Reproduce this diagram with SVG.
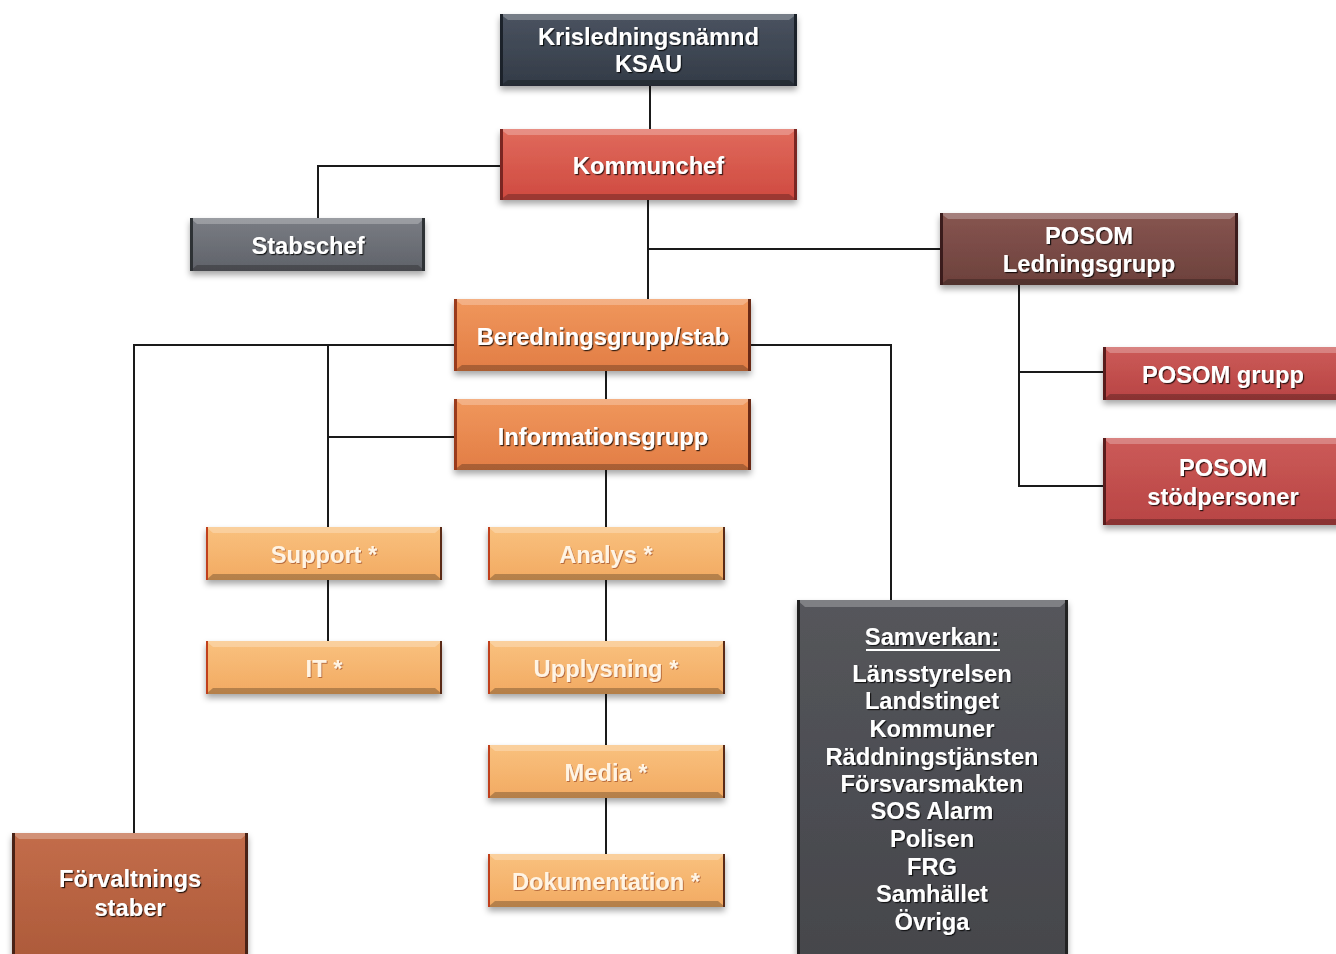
<svg xmlns="http://www.w3.org/2000/svg" width="1336" height="954" viewBox="0 0 1336 954">
<defs>
<style>
.t{font-family:"Liberation Sans",Arial,sans-serif;font-weight:bold;font-size:23.7px;fill:#ffffff;text-anchor:middle;filter:url(#ts)}
.tl{font-family:"Liberation Sans",Arial,sans-serif;font-weight:bold;font-size:23.7px;fill:#fff4e4;text-anchor:middle;filter:url(#tsl)}
.c{fill:none;stroke:#1a1a1a;stroke-width:2}
.box{filter:url(#bs)}
.hl{fill:#ffffff;opacity:0.25}
.dk{fill:#000000;opacity:0.25}
</style>
<filter id="ts" x="-10%" y="-30%" width="120%" height="160%"><feDropShadow dx="1.2" dy="1.2" stdDeviation="0.6" flood-color="#000" flood-opacity="0.75"/></filter>
<filter id="tsl" x="-10%" y="-30%" width="120%" height="160%"><feDropShadow dx="1" dy="1" stdDeviation="0.6" flood-color="#a0502a" flood-opacity="0.7"/></filter>
<filter id="bs" x="-5%" y="-10%" width="110%" height="130%"><feDropShadow dx="0" dy="4" stdDeviation="3" flood-color="#000" flood-opacity="0.35"/></filter>
<linearGradient id="gNavy" x1="0" y1="0" x2="0" y2="1"><stop offset="0" stop-color="#4a5360"/><stop offset="1" stop-color="#333b47"/></linearGradient>
<linearGradient id="gRed" x1="0" y1="0" x2="0" y2="1"><stop offset="0" stop-color="#e06a5c"/><stop offset="1" stop-color="#cf4a40"/></linearGradient>
<linearGradient id="gGrey" x1="0" y1="0" x2="0" y2="1"><stop offset="0" stop-color="#7a7d84"/><stop offset="1" stop-color="#5f6269"/></linearGradient>
<linearGradient id="gBrown" x1="0" y1="0" x2="0" y2="1"><stop offset="0" stop-color="#875550"/><stop offset="1" stop-color="#6c413c"/></linearGradient>
<linearGradient id="gOrange" x1="0" y1="0" x2="0" y2="1"><stop offset="0" stop-color="#f0975c"/><stop offset="1" stop-color="#e27d45"/></linearGradient>
<linearGradient id="gPosom" x1="0" y1="0" x2="0" y2="1"><stop offset="0" stop-color="#cc5b58"/><stop offset="1" stop-color="#b84444"/></linearGradient>
<linearGradient id="gLight" x1="0" y1="0" x2="0" y2="1"><stop offset="0" stop-color="#f9c17e"/><stop offset="1" stop-color="#f2aa62"/></linearGradient>
<linearGradient id="gDark" x1="0" y1="0" x2="0" y2="1"><stop offset="0" stop-color="#55565b"/><stop offset="1" stop-color="#45464b"/></linearGradient>
<linearGradient id="gFor" x1="0" y1="0" x2="0" y2="1"><stop offset="0" stop-color="#c36d4a"/><stop offset="1" stop-color="#ad5a3a"/></linearGradient>
</defs>
<rect width="1336" height="954" fill="#ffffff"/>

<g id="connectors">
<path class="c" d="M650 86 V129"/>
<path class="c" d="M500 166 H318 V218"/>
<path class="c" d="M648 200 V299"/>
<path class="c" d="M648 249 H940"/>
<path class="c" d="M1019 285 V486 H1103"/>
<path class="c" d="M1019 372 H1103"/>
<path class="c" d="M454 345 H134 V833"/>
<path class="c" d="M328 345 V527"/>
<path class="c" d="M454 437 H328"/>
<path class="c" d="M751 345 H891 V600"/>
<path class="c" d="M606 371 V399"/>
<path class="c" d="M606 470 V527"/>
<path class="c" d="M328 580 V641"/>
<path class="c" d="M606 580 V641"/>
<path class="c" d="M606 694 V745"/>
<path class="c" d="M606 798 V854"/>
</g>

<g id="krisledningsnamnd" class="box">
<rect x="500" y="14" width="297" height="72" fill="url(#gNavy)"/>
<polygon class="hl" points="500,14 797,14 789,20 508,20"/>
<polygon class="dk" points="500,86 797,86 789,80 508,80"/>
<rect x="500" y="14" width="3" height="72" fill="#1e232a"/><rect x="794" y="14" width="3" height="72" fill="#1e232a"/>
<text class="t" x="648.5" y="45">Krisledningsnämnd</text>
<text class="t" x="648.5" y="72">KSAU</text>
</g>

<g id="kommunchef" class="box">
<rect x="500" y="129" width="297" height="71" fill="url(#gRed)"/>
<polygon class="hl" points="500,129 797,129 789,135 508,135"/>
<polygon class="dk" points="500,200 797,200 789,194 508,194"/>
<rect x="500" y="129" width="3" height="71" fill="#7a2520"/><rect x="794" y="129" width="3" height="71" fill="#7a2520"/>
<text class="t" x="648.5" y="174">Kommunchef</text>
</g>

<g id="stabschef" class="box">
<rect x="190" y="218" width="235" height="53" fill="url(#gGrey)"/>
<polygon class="hl" points="190,218 425,218 418,224 197,224"/>
<polygon class="dk" points="190,271 425,271 418,265 197,265"/>
<rect x="190" y="218" width="3" height="53" fill="#2e3036"/><rect x="422" y="218" width="3" height="53" fill="#2e3036"/>
<text class="t" x="308" y="254">Stabschef</text>
</g>

<g id="posom-ledningsgrupp" class="box">
<rect x="940" y="213" width="298" height="72" fill="url(#gBrown)"/>
<polygon class="hl" points="940,213 1238,213 1230,219 948,219"/>
<polygon class="dk" points="940,285 1238,285 1230,279 948,279"/>
<rect x="940" y="213" width="3" height="72" fill="#3a1f1c"/><rect x="1235" y="213" width="3" height="72" fill="#3a1f1c"/>
<text class="t" x="1089" y="244">POSOM</text>
<text class="t" x="1089" y="272">Ledningsgrupp</text>
</g>

<g id="beredningsgrupp" class="box">
<rect x="454" y="299" width="297" height="72" fill="url(#gOrange)"/>
<polygon class="hl" points="454,299 751,299 743,305 462,305"/>
<polygon class="dk" points="454,371 751,371 743,365 462,365"/>
<rect x="454" y="299" width="3" height="72" fill="#9a3a1c"/><rect x="748" y="299" width="3" height="72" fill="#6a2a14"/>
<text class="t" x="603" y="345">Beredningsgrupp/stab</text>
</g>

<g id="informationsgrupp" class="box">
<rect x="454" y="399" width="297" height="71" fill="url(#gOrange)"/>
<polygon class="hl" points="454,399 751,399 743,405 462,405"/>
<polygon class="dk" points="454,470 751,470 743,464 462,464"/>
<rect x="454" y="399" width="3" height="71" fill="#9a3a1c"/><rect x="748" y="399" width="3" height="71" fill="#6a2a14"/>
<text class="t" x="603" y="445">Informationsgrupp</text>
</g>

<g id="posom-grupp" class="box">
<rect x="1103" y="347" width="240" height="53" fill="url(#gPosom)"/>
<polygon class="hl" points="1103,347 1343,347 1343,353 1110,353"/>
<polygon class="dk" points="1103,400 1343,400 1343,394 1110,394"/>
<rect x="1103" y="347" width="3" height="53" fill="#5a1a1a"/>
<text class="t" x="1223" y="383">POSOM grupp</text>
</g>

<g id="posom-stodpersoner" class="box">
<rect x="1103" y="438" width="240" height="87" fill="url(#gPosom)"/>
<polygon class="hl" points="1103,438 1343,438 1343,444 1110,444"/>
<polygon class="dk" points="1103,525 1343,525 1343,519 1110,519"/>
<rect x="1103" y="438" width="3" height="87" fill="#5a1a1a"/>
<text class="t" x="1223" y="476">POSOM</text>
<text class="t" x="1223" y="505">stödpersoner</text>
</g>

<g id="support" class="box">
<rect x="206" y="527" width="236" height="53" fill="url(#gLight)"/>
<polygon class="hl" points="206,527 442,527 435,533 213,533"/>
<polygon class="dk" points="206,580 442,580 435,574 213,574"/>
<rect x="206" y="527" width="2" height="53" fill="#c0401c"/><rect x="440" y="527" width="2" height="53" fill="#5a2a14"/>
<text class="tl" x="324" y="563">Support *</text>
</g>

<g id="it" class="box">
<rect x="206" y="641" width="236" height="53" fill="url(#gLight)"/>
<polygon class="hl" points="206,641 442,641 435,647 213,647"/>
<polygon class="dk" points="206,694 442,694 435,688 213,688"/>
<rect x="206" y="641" width="2" height="53" fill="#c0401c"/><rect x="440" y="641" width="2" height="53" fill="#5a2a14"/>
<text class="tl" x="324" y="677">IT *</text>
</g>

<g id="analys" class="box">
<rect x="488" y="527" width="237" height="53" fill="url(#gLight)"/>
<polygon class="hl" points="488,527 725,527 718,533 495,533"/>
<polygon class="dk" points="488,580 725,580 718,574 495,574"/>
<rect x="488" y="527" width="2" height="53" fill="#c0401c"/><rect x="723" y="527" width="2" height="53" fill="#5a2a14"/>
<text class="tl" x="606" y="563">Analys *</text>
</g>

<g id="upplysning" class="box">
<rect x="488" y="641" width="237" height="53" fill="url(#gLight)"/>
<polygon class="hl" points="488,641 725,641 718,647 495,647"/>
<polygon class="dk" points="488,694 725,694 718,688 495,688"/>
<rect x="488" y="641" width="2" height="53" fill="#c0401c"/><rect x="723" y="641" width="2" height="53" fill="#5a2a14"/>
<text class="tl" x="606" y="677">Upplysning *</text>
</g>

<g id="media" class="box">
<rect x="488" y="745" width="237" height="53" fill="url(#gLight)"/>
<polygon class="hl" points="488,745 725,745 718,751 495,751"/>
<polygon class="dk" points="488,798 725,798 718,792 495,792"/>
<rect x="488" y="745" width="2" height="53" fill="#c0401c"/><rect x="723" y="745" width="2" height="53" fill="#5a2a14"/>
<text class="tl" x="606" y="781">Media *</text>
</g>

<g id="dokumentation" class="box">
<rect x="488" y="854" width="237" height="53" fill="url(#gLight)"/>
<polygon class="hl" points="488,854 725,854 718,860 495,860"/>
<polygon class="dk" points="488,907 725,907 718,901 495,901"/>
<rect x="488" y="854" width="2" height="53" fill="#c0401c"/><rect x="723" y="854" width="2" height="53" fill="#5a2a14"/>
<text class="tl" x="606" y="890">Dokumentation *</text>
</g>

<g id="samverkan" class="box">
<rect x="797" y="600" width="271" height="360" fill="url(#gDark)"/>
<polygon class="hl" points="797,600 1068,600 1060,607 805,607"/>
<rect x="797" y="600" width="3" height="360" fill="#222"/><rect x="1065" y="600" width="3" height="360" fill="#222"/>
<text class="t" x="932" y="645">Samverkan:</text>
<rect x="866" y="649" width="134" height="2" fill="#ffffff"/>
<text class="t" x="932" y="682">Länsstyrelsen</text>
<text class="t" x="932" y="709">Landstinget</text>
<text class="t" x="932" y="737">Kommuner</text>
<text class="t" x="932" y="765">Räddningstjänsten</text>
<text class="t" x="932" y="792">Försvarsmakten</text>
<text class="t" x="932" y="819">SOS Alarm</text>
<text class="t" x="932" y="847">Polisen</text>
<text class="t" x="932" y="875">FRG</text>
<text class="t" x="932" y="902">Samhället</text>
<text class="t" x="932" y="930">Övriga</text>
</g>

<g id="forvaltnings-staber" class="box">
<rect x="12" y="833" width="236" height="125" fill="url(#gFor)"/>
<polygon class="hl" points="12,833 248,833 241,839 19,839"/>
<rect x="12" y="833" width="3" height="125" fill="#4a2216"/><rect x="245" y="833" width="3" height="125" fill="#4a2216"/>
<text class="t" x="130" y="887">Förvaltnings</text>
<text class="t" x="130" y="916">staber</text>
</g>
</svg>
